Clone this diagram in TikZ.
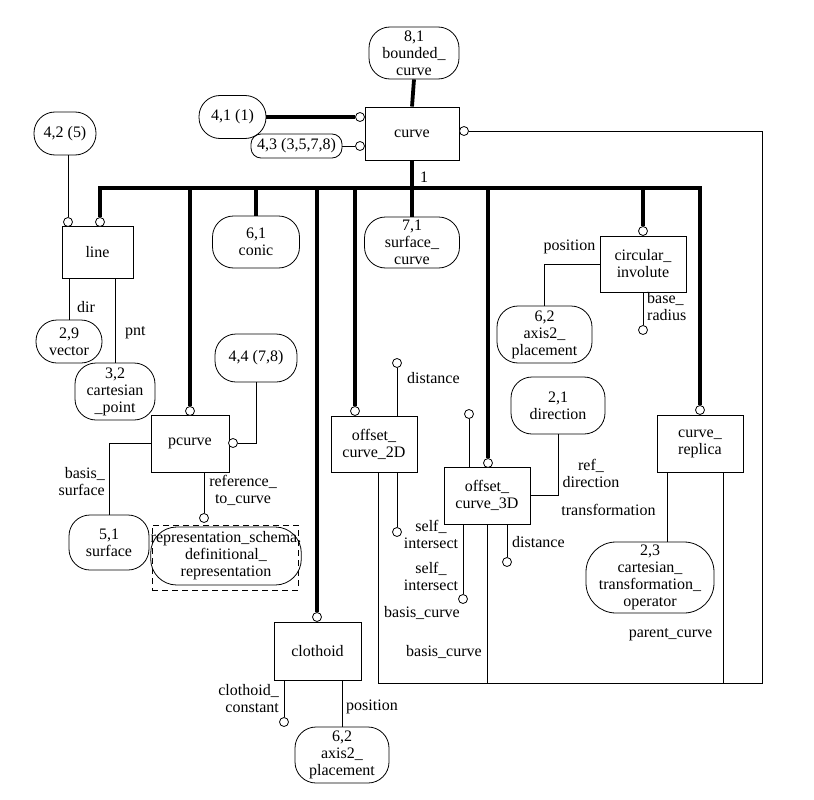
\documentclass[tikz,border=0pt]{standalone}
\usepackage{fontspec}
\setmainfont{Liberation Serif}
\begin{document}
\begin{tikzpicture}[x=1pt,y=-1pt,
  every node/.style={font=\fontsize{16}{17}\selectfont},
  sz/.style 2 args={minimum width=#1pt,minimum height=#2pt},
  ent/.style={draw,rectangle,inner sep=0pt,align=center,line width=0.9pt},
  typ/.style={draw,rounded corners=21pt,inner sep=0pt,align=center,line width=0.8pt},
  ring/.style={circle,draw,fill=white,inner sep=0pt,minimum size=9pt,line width=0.8pt},
  lbl/.style={inner sep=0pt},
  fat/.style={line width=3.8pt},
  thin/.style={line width=0.9pt}]
\useasboundingbox (0,0) rectangle (814,800);

% entities
\node[ent,sz={94}{53}] (curve) at (412,133.5) {curve};
\node[ent,sz={71}{52}] (line) at (97.5,252) {line};
\node[ent,sz={78}{57}] (pcurve) at (190,443.5) {pcurve};
\node[ent,sz={86}{56}] (oc2d) at (374,444) {offset\_\\curve\_2D};
\node[ent,sz={86}{57}] (oc3d) at (487,495.5) {offset\_\\curve\_3D};
\node[ent,sz={86}{56}] (circinv) at (643,264) {circular\_\\involute};
\node[ent,sz={86}{57}] (replica) at (700,443.5) {curve\_\\replica};
\node[ent,sz={87}{58}] (clothoid) at (317.5,651) {clothoid};

% references
\node[typ,sz={90}{52}] (bounded) at (414,53) {8,1\\bounded\_\\curve};
\node[typ,sz={67}{43}] (r41) at (232.5,117) {4,1 (1)};
\node[typ,sz={91}{24},rounded corners=10pt] (r43) at (296.5,146) {4,3 (3,5,7,8)};
\node[typ,sz={62}{43}] (r42) at (65,133.5) {4,2 (5)};
\node[typ,sz={66}{43}] (vector) at (69,341.5) {2,9\\vector};
\node[typ,sz={80}{57}] (cartpt) at (115,391.5) {3,2\\cartesian\\\_point};
\node[typ,sz={87}{52}] (conic) at (256,242) {6,1\\conic};
\node[typ,sz={95}{51}] (surfcurve) at (412,242.5) {7,1\\surface\_\\curve};
\node[typ,sz={82}{48}] (r44) at (256,358) {4,4 (7,8)};
\node[typ,sz={80}{55}] (surface) at (109,542.5) {5,1\\surface};
\node[draw,dash pattern=on 6pt off 4pt,sz={146}{65},line width=0.8pt] (defbox) at (225,557.5) {};
\node[typ,sz={138}{58},rounded corners=26pt] (defrep) at (226,556) {representation\_schema.\\definitional\_\\representation};
\node[typ,sz={94}{57}] (direction) at (558,405.5) {2,1\\direction};
\node[typ,sz={95}{57}] (axis1) at (544.5,334.5) {6,2\\axis2\_\\placement};
\node[typ,sz={128}{71},rounded corners=30pt] (cto) at (650,577.5) {2,3\\cartesian\_\\transformation\_\\operator};
\node[typ,sz={94}{56}] (axis2) at (342,755) {6,2\\axis2\_\\placement};

% rings
\node[ring] (c41) at (360,117) {};
\node[ring] (c43) at (360,146) {};
\node[ring] (ccr) at (464,131) {};
\node[ring] (cl1) at (100,222) {};
\node[ring] (cl2) at (68,222) {};
\node[ring] (cpc) at (190,411) {};
\node[ring] (cpc2) at (233,443) {};
\node[ring] (cref) at (204,518) {};
\node[ring] (cclo) at (317,617) {};
\node[ring] (cconst) at (284,722) {};
\node[ring] (c2d) at (355,411) {};
\node[ring] (cdist2) at (397,363) {};
\node[ring] (cself2) at (397,532) {};
\node[ring] (c3d) at (488,463) {};
\node[ring] (c3dtop) at (469,414) {};
\node[ring] (cself3) at (463,599) {};
\node[ring] (cdist3) at (507,562) {};
\node[ring] (cci) at (643,231) {};
\node[ring] (cbr) at (643,330) {};
\node[ring] (crep) at (700,410) {};

\coordinate (root) at (412,188);
\coordinate (busL) at (100,188);
\coordinate (busR) at (700,188);
\coordinate (cornerL) at (378,683);
\coordinate (cornerR) at (762,683);
\coordinate (pc) at (723,683);
\coordinate (trf) at (667,542);

% subtype tree
\draw[fat] (bounded.south) -- (curve.north);
\draw[fat] (curve.south) -- (root);
\draw[fat] (cl1.north) -- (busL) -- (busR) -- (crep.north);
\draw[fat] (cpc.north |- root) -- (cpc.north);
\draw[fat] (conic.north |- root) -- (conic.north);
\draw[fat] (cclo.north |- root) -- (cclo.north);
\draw[fat] (c2d.north |- root) -- (c2d.north);
\draw[fat] (root) -- (surfcurve.north);
\draw[fat] (c3d.north |- root) -- (c3d.north);
\draw[fat] (cci.north |- root) -- (cci.north);
\draw[fat] (r41.east) -- (c41.west);
\node[lbl] (one) at (424,177) {1};

% attributes
\draw[thin] (r43.east) -- (c43.west);
\draw[thin] (ccr.east) -| (cornerR) -- (cornerL) -- (cornerL |- oc2d.south);
\draw[thin] (cl2 |- r42.south) -- (cl2.north);
\draw[thin] (vector.north |- line.south) -- (vector.north);
\draw[thin] (cartpt.north |- line.south) -- (cartpt.north);
\draw[thin] (r44.south) -- (r44.south |- cpc2) -- (cpc2.east);
\draw[thin] (pcurve.west) -| (surface.north);
\draw[thin] (cref.north |- pcurve.south) -- (cref.north);
\draw[thin] (cconst.north |- clothoid.south) -- (cconst.north);
\draw[thin] (axis2.north |- clothoid.south) -- (axis2.north);
\draw[thin] (cdist2.south) -- (cdist2.south |- oc2d.north);
\draw[thin] (cself2.north |- oc2d.south) -- (cself2.north);
\draw[thin] (c3dtop.south) -- (c3dtop.south |- oc3d.north);
\draw[thin] (cself3.north |- oc3d.south) -- (cself3.north);
\draw[thin] (cdist3.north |- oc3d.south) -- (cdist3.north);
\draw[thin] (oc3d.south) -- (oc3d.south |- cornerL);
\draw[thin] (oc3d.east) -| (direction.south);
\draw[thin] (circinv.west) -| (axis1.north);
\draw[thin] (cbr.north |- circinv.south) -- (cbr.north);
\draw[thin] (trf |- replica.south) -- (trf);
\draw[thin] (pc |- replica.south) -- (pc);

% labels
\node[lbl,anchor=west] (ldir) at (77,307) {dir};
\node[lbl,anchor=west] (lpnt) at (125,333) {pnt};
\node[lbl,anchor=east,align=right] (lbas) at (105,482) {basis\_\\surface};
\node[lbl,align=center] (lref) at (243,490) {reference\_\\to\_curve};
\node[lbl,anchor=west] (ldist2) at (407,378) {distance};
\node[lbl,align=center] (lself2) at (431,534.5) {self\_\\intersect};
\node[lbl,anchor=west] (lbc2) at (406,652) {basis\_curve};
\node[lbl,align=center] (lself3) at (431,576.5) {self\_\\intersect};
\node[lbl] (lbc3) at (422,613) {basis\_curve};
\node[lbl,anchor=west] (ldist3) at (512,542) {distance};
\node[lbl,align=center] (lrefdir) at (591,473.5) {ref\_\\direction};
\node[lbl] (ltrf) at (608.5,510) {transformation};
\node[lbl] (lpc) at (670.5,635) {parent\_curve};
\node[lbl] (lpos1) at (569.5,247) {position};
\node[lbl,anchor=west,align=left] (lbr) at (647,306.5) {base\_\\radius};
\node[lbl,anchor=east,align=right] (lconst) at (279,699) {clothoid\_\\constant};
\node[lbl,anchor=west] (lpos2) at (346,707) {position};
\end{tikzpicture}
\end{document}
